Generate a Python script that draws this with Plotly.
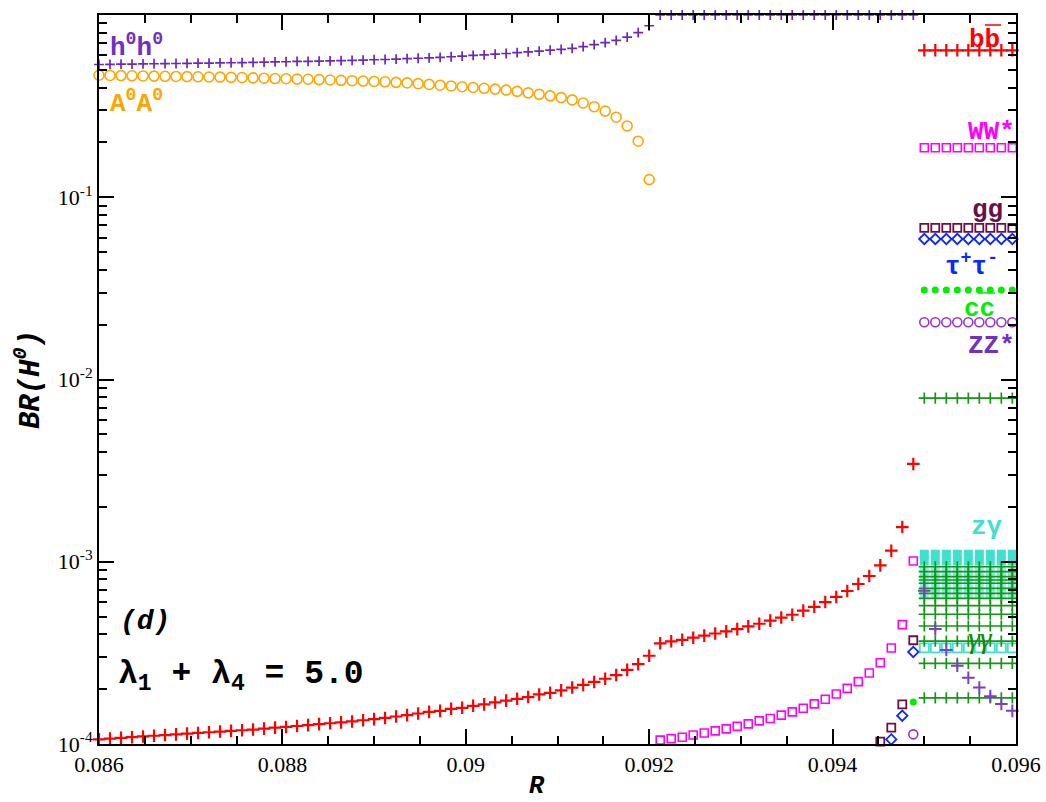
import plotly.graph_objects as go

# sampling grid in R (uniform step)
R_START = 0.086
R_STEP = 0.00012
R = [round(R_START + R_STEP * i, 5) for i in range(84)]
R_FLAT = R[75:84]          # 0.0950 ... 0.0960, the flat block on the right

# H0 -> h0 h0 (purple crosses), i = 0..74
BR_HH = [0.535, 0.536, 0.537, 0.538, 0.539, 0.540, 0.541, 0.542, 0.543, 0.544,
         0.545, 0.546, 0.547, 0.548, 0.550, 0.551, 0.553, 0.554, 0.556, 0.557,
         0.559, 0.560, 0.562, 0.564, 0.566, 0.568, 0.570, 0.573, 0.576, 0.579,
         0.582, 0.586, 0.590, 0.595, 0.600, 0.605, 0.610, 0.615, 0.621, 0.627,
         0.634, 0.641, 0.648, 0.656, 0.670, 0.687, 0.705, 0.726, 0.757, 0.800,
         0.873,
         1.0, 1.0, 1.0, 1.0, 1.0, 1.0, 1.0, 1.0, 1.0, 1.0, 1.0, 1.0,
         1.0, 1.0, 1.0, 1.0, 1.0, 1.0, 1.0, 1.0, 1.0, 1.0, 1.0, 1.0]

# H0 -> A0 A0 (orange circles), i = 0..50
BR_AA = [0.467, 0.466, 0.465, 0.464, 0.463, 0.462, 0.461, 0.460, 0.459, 0.458,
         0.457, 0.456, 0.455, 0.454, 0.452, 0.450, 0.448, 0.447, 0.445, 0.444,
         0.442, 0.440, 0.438, 0.436, 0.434, 0.432, 0.430, 0.427, 0.424, 0.420,
         0.416, 0.412, 0.408, 0.404, 0.400, 0.396, 0.392, 0.387, 0.381, 0.374,
         0.367, 0.360, 0.352, 0.342, 0.329, 0.314, 0.297, 0.275, 0.246, 0.203,
         0.125]

# H0 -> b bbar (red crosses), i = 0..83
BR_BB = [1.06e-4, 1.07e-4, 1.08e-4, 1.09e-4, 1.10e-4, 1.11e-4, 1.12e-4, 1.13e-4,
         1.14e-4, 1.15e-4, 1.16e-4, 1.17e-4, 1.18e-4, 1.19e-4, 1.20e-4, 1.215e-4,
         1.23e-4, 1.24e-4, 1.255e-4, 1.27e-4, 1.285e-4, 1.30e-4, 1.315e-4, 1.33e-4,
         1.35e-4, 1.37e-4, 1.39e-4, 1.415e-4, 1.44e-4,
         1.47e-4, 1.50e-4, 1.52e-4, 1.56e-4, 1.58e-4, 1.62e-4, 1.65e-4, 1.69e-4,
         1.73e-4, 1.77e-4, 1.81e-4, 1.87e-4, 1.91e-4, 1.97e-4, 2.04e-4, 2.11e-4,
         2.19e-4, 2.28e-4, 2.39e-4, 2.55e-4, 2.74e-4, 3.05e-4,
         3.57e-4, 3.66e-4, 3.73e-4, 3.83e-4, 3.93e-4, 4.04e-4, 4.15e-4, 4.27e-4,
         4.42e-4, 4.57e-4, 4.75e-4, 4.94e-4, 5.12e-4, 5.39e-4, 5.66e-4, 6.01e-4,
         6.41e-4, 6.91e-4, 7.55e-4, 8.35e-4, 9.55e-4, 1.15e-3, 1.55e-3, 3.44e-3,
         0.64, 0.64, 0.64, 0.64, 0.64, 0.64, 0.64, 0.64, 0.64]

# H0 -> W W* (magenta squares), i = 51..83
BR_WW = [1.05e-4, 1.07e-4, 1.09e-4, 1.12e-4, 1.15e-4, 1.18e-4, 1.21e-4, 1.25e-4,
         1.29e-4, 1.34e-4, 1.38e-4, 1.44e-4, 1.50e-4, 1.57e-4, 1.66e-4, 1.76e-4,
         1.88e-4, 2.02e-4, 2.20e-4, 2.45e-4, 2.79e-4, 3.36e-4, 4.52e-4, 1.01e-3,
         0.187, 0.187, 0.187, 0.187, 0.187, 0.187, 0.187, 0.187, 0.187]

# H0 -> g g (i = 71..83), tau tau (i = 72..83), c cbar and Z Z* (i = 74..83)
BR_GG = [1.03e-4, 1.23e-4, 1.65e-4, 3.71e-4,
         0.068, 0.068, 0.068, 0.068, 0.068, 0.068, 0.068, 0.068, 0.068]
BR_TT = [1.06e-4, 1.43e-4, 3.20e-4,
         0.059, 0.059, 0.059, 0.059, 0.059, 0.059, 0.059, 0.059, 0.059]
BR_CC = [1.70e-4,
         0.031, 0.031, 0.031, 0.031, 0.031, 0.031, 0.031, 0.031, 0.031]
BR_ZZ = [1.13e-4,
         0.0206, 0.0206, 0.0206, 0.0206, 0.0206, 0.0206, 0.0206, 0.0206, 0.0206]

# falling purple crosses in the right block, i = 75..83
BR_FALL = [6.94e-4, 4.27e-4, 3.28e-4, 2.69e-4, 2.31e-4, 2.04e-4, 1.83e-4, 1.66e-4, 1.52e-4]

# flat levels in the right block
GREEN_LEVELS = [7.9e-3, 9.39e-4, 8.82e-4, 8.28e-4, 7.94e-4, 7.62e-4, 7.15e-4, 6.71e-4,
                6.30e-4, 5.74e-4, 5.15e-4, 4.44e-4, 3.67e-4, 2.77e-4, 1.79e-4]
ZGAMMA_LEVELS = [1.10e-3, 1.01e-3]
ZGAMMA_PALE_LEVELS = [9.0e-4, 8.1e-4, 7.3e-4, 6.6e-4]
GAMMA_GAMMA = 3.37e-4

Y_TICKS = [1e-4, 1e-3, 1e-2, 1e-1, 1]
Y_TICKTEXT = ["10<sup>-4</sup>", "10<sup>-3</sup>", "10<sup>-2</sup>",
              "10<sup>-1</sup>", "10<sup>0</sup>"]
Y_MINOR = [k * 10.0 ** e for e in (-4, -3, -2, -1) for k in range(2, 10)]
X_TICKS = [0.086, 0.088, 0.090, 0.092, 0.094, 0.096]
X_TICKTEXT = ["0.086", "0.088", "0.09", "0.092", "0.094", "0.096"]


def pts(x, y, symbol, color, size, width=0, opacity=1.0):
    marker = dict(symbol=symbol, color=color, size=size, opacity=opacity)
    if width:
        marker["line"] = dict(color=color, width=width)
    return go.Scatter(x=x, y=y, mode="markers", marker=marker,
                      cliponaxis=False, showlegend=False, hoverinfo="skip")


fig = go.Figure()

for lvl in ZGAMMA_PALE_LEVELS:
    fig.add_trace(pts(R_FLAT, [lvl] * len(R_FLAT), "square", "#40e0d0", 9, opacity=0.6))
for lvl in ZGAMMA_LEVELS:
    fig.add_trace(pts(R_FLAT, [lvl] * len(R_FLAT), "square", "#40e0d0", 9))
fig.add_trace(pts(R_FLAT, [GAMMA_GAMMA] * len(R_FLAT), "square-open", "#40e0d0", 9, 1.8))
for lvl in GREEN_LEVELS:
    fig.add_trace(pts(R_FLAT, [lvl] * len(R_FLAT), "cross-thin", "#139613", 8, 1.7))

fig.add_trace(pts(R[0:51], BR_AA, "circle-open", "#ffa500", 10, 1.6))
fig.add_trace(pts(R[0:75], BR_HH, "cross-thin", "#6a28c0", 7, 1.7))
fig.add_trace(pts(R[0:84], BR_BB, "cross-thin", "#ff0000", 9, 2.2))
fig.add_trace(pts(R[51:84], BR_WW, "square-open", "#ff00ff", 8, 1.6))
fig.add_trace(pts(R[71:84], BR_GG, "square-open", "#6b1046", 8, 1.8))
fig.add_trace(pts(R[72:84], BR_TT, "diamond-open", "#0a28ff", 8, 1.8))
fig.add_trace(pts(R[74:84], BR_CC, "circle", "#00ee00", 7))
fig.add_trace(pts(R[74:84], BR_ZZ, "circle-open", "#9932cc", 9, 1.6))
fig.add_trace(pts(R_FLAT, BR_FALL, "cross-thin", "#7b3fc4", 9, 2))

# plot area in pixels, used to place the text labels
L, T, W, H = 99, 15, 917, 729


def px(x):
    return (x - L) / W


def py(y):
    return (T + H - y) / H


MONO = "Liberation Mono"
SERIF = "Liberation Serif"


def label(text, x, y, color, size=26, anchor="left", family=MONO):
    fig.add_annotation(text=text, x=px(x), y=py(y), xref="paper", yref="paper",
                       xanchor=anchor, yanchor="middle", showarrow=False,
                       font=dict(family=family, size=size, color=color))


label("<b>h<sup>0</sup>h<sup>0</sup></b>", 108, 46, "#7030c0")
label("<b>A<sup>0</sup>A<sup>0</sup></b>", 108, 102, "#ffa500")
label("<b>bb</b>", 1002, 40, "#ff0000", anchor="right")
label("<b>WW*</b>", 1017, 132, "#ff00ff", anchor="right")
label("<b>gg</b>", 1005, 210, "#6b1046", anchor="right")
label("<b>τ<sup>+</sup>τ<sup>-</sup></b>", 1000, 265, "#0a28ff", anchor="right")
label("<b>cc</b>", 997, 309, "#00ee00", anchor="right")
label("<b>ZZ*</b>", 1017, 346, "#7030c0", anchor="right")
label("<b>zγ</b>", 1005, 527, "#40e0d0", anchor="right")
label("<i>γγ</i>", 995, 637, "#108a10", size=30, anchor="right", family=SERIF)
label("<b><i>(d)</i></b>", 118, 621, "black", size=28)
label("<b>λ<sub>1</sub> + λ<sub>4</sub> = 5.0</b>", 116, 676, "black", size=33)
# x axis title
fig.add_annotation(text="<b><i>R</i></b>", x=px(537), y=py(786), xref="paper",
                   yref="paper", xanchor="center", yanchor="middle", showarrow=False,
                   font=dict(family=MONO, size=25, color="black"))

# bars over bbar and the c
fig.add_shape(type="line", xref="paper", yref="paper",
              x0=px(985), x1=px(1001), y0=py(25), y1=py(25),
              line=dict(color="#ff0000", width=1.5))
fig.add_shape(type="line", xref="paper", yref="paper",
              x0=px(978), x1=px(995), y0=py(293), y1=py(293),
              line=dict(color="#00ee00", width=1.5))

axis_common = dict(showline=True, linecolor="black", linewidth=2, mirror="ticks",
                   ticks="inside", ticklen=15, tickwidth=1.5, tickcolor="black",
                   showgrid=False, zeroline=False, automargin=False)

fig.update_xaxes(range=[0.086, 0.096], tickvals=X_TICKS, ticktext=X_TICKTEXT,
                 tickfont=dict(family=SERIF, size=22, color="black"),
                 minor=dict(dtick=0.0005, ticks="inside", ticklen=8, tickwidth=1.5,
                            tickcolor="black", showgrid=False),
                 **axis_common)
fig.update_yaxes(type="log", range=[-4, 0], tickvals=Y_TICKS, ticktext=Y_TICKTEXT,
                 tickfont=dict(family=SERIF, size=22, color="black"),
                 minor=dict(tickmode="array", tickvals=Y_MINOR, ticks="inside",
                            ticklen=8, tickwidth=1.5, tickcolor="black", showgrid=False),
                 title=dict(text="<b><i>BR(H<sup>0</sup>)</i></b>", standoff=10,
                            font=dict(family=MONO, size=29, color="black")),
                 **axis_common)

fig.update_layout(width=1046, height=802, plot_bgcolor="white", paper_bgcolor="white",
                  margin=dict(l=99, r=30, t=15, b=58))

# the page body has a default 8px margin; drop it so the figure sits at 0,0
fig.write_html("out.html", config={"displayModeBar": False},
               post_script="document.body.style.margin = '0';")
